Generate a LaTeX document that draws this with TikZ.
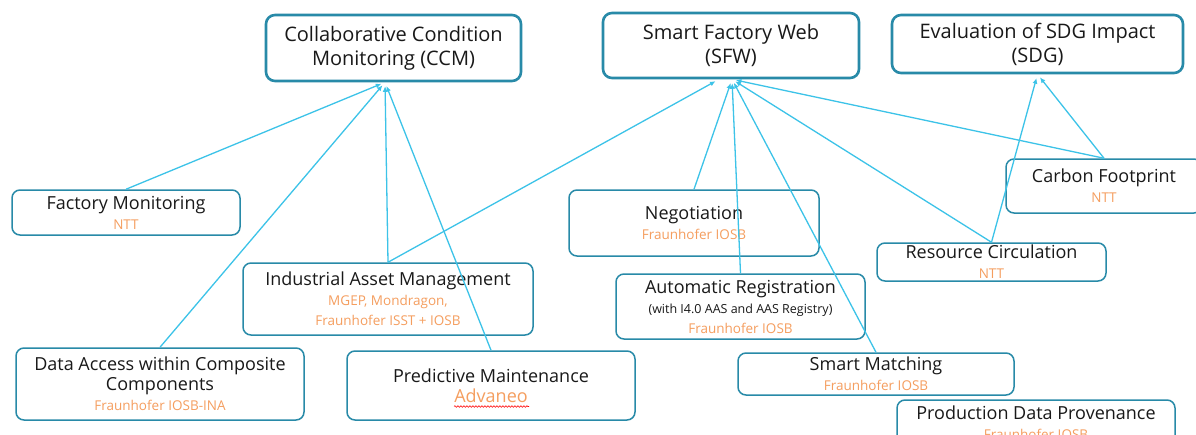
\documentclass[tikz,border=0pt]{standalone}
\usepackage{fontspec}
\setmainfont{Open Sans}
\usetikzlibrary{arrows.meta,calc,decorations.pathmorphing}
\definecolor{boxc}{RGB}{40,138,168}
\definecolor{linec}{RGB}{60,195,232}
\definecolor{orgc}{RGB}{245,158,95}
\definecolor{txtc}{RGB}{25,25,25}
\newcommand\orgtxt[1]{{\color{orgc}\fontsize{13.5}{15}\selectfont #1}}
\newcommand\smalltxt[1]{{\fontsize{12.5}{13}\selectfont #1}}
\begin{document}
\begin{tikzpicture}[x=1pt,y=-1pt,
 topbox/.style={draw=boxc, line width=2.6pt, rounded corners=9pt, align=center, inner sep=0pt, font=\fontsize{20}{24}\selectfont, text=txtc},
 subbox/.style={draw=boxc, line width=1.5pt, rounded corners=8pt, align=center, inner sep=0pt, font=\fontsize{18}{20}\selectfont, text=txtc},
 conn/.style={draw=linec, line width=1.3pt, -{Latex[length=5.5pt,width=5pt]}, shorten >=4pt}]
\clip (0,0) rectangle (1196,434);
\fill[white] (0,0) rectangle (1196,434);

% top-level boxes
\node[topbox, minimum width=255pt, minimum height=66pt] (ccm) at (393.5,48) {Collaborative Condition\\Monitoring (CCM)};
\node[topbox, minimum width=256pt, minimum height=65pt] (sfw) at (731,45.5) {Smart Factory Web\\(SFW)};
\node[topbox, minimum width=291pt, minimum height=58pt] (sdg) at (1037.5,44) {Evaluation of SDG Impact\\(SDG)};

% sub boxes
\node[subbox, minimum width=228pt, minimum height=45pt] (fm) at (126,212.5) {Factory Monitoring\\\orgtxt{NTT}};
\node[subbox, minimum width=290pt, minimum height=72pt] (iam) at (388,299) {Industrial Asset Management\\\orgtxt{MGEP, Mondragon,}\\\orgtxt{Fraunhofer ISST + IOSB}};
\node[subbox, minimum width=288pt, minimum height=72pt] (da) at (160,384) {Data Access within Composite\\Components\\\orgtxt{Fraunhofer IOSB-INA}};
\node[subbox, minimum width=288pt, minimum height=69pt] (pm) at (491,385.5) {Predictive Maintenance\\{\color{orgc}Advaneo}};
\node[subbox, minimum width=250pt, minimum height=66pt] (neg) at (694,223) {Negotiation\\\orgtxt{Fraunhofer IOSB}};
\node[subbox, minimum width=249pt, minimum height=65pt] (ar) at (740.5,306.5) {Automatic Registration\\\smalltxt{(with I4.0 AAS and AAS Registry)}\\\orgtxt{Fraunhofer IOSB}};
\node[subbox, minimum width=276pt, minimum height=42pt] (sm) at (876,374) {Smart Matching\\\orgtxt{Fraunhofer IOSB}};
\node[subbox, minimum width=278pt, minimum height=45pt] (pdp) at (1036,422.5) {Production Data Provenance\\\orgtxt{Fraunhofer IOSB}};
\node[subbox, minimum width=229pt, minimum height=38pt] (rc) at (991.5,262) {Resource Circulation\\\orgtxt{NTT}};
\node[subbox, minimum width=196pt, minimum height=54pt] (cf) at (1104,186) {Carbon Footprint\\\orgtxt{NTT}};

% spell-check underline
\draw[red, line width=0.6pt, decorate, decoration={snake, amplitude=0.8pt, segment length=3pt}] ($(pm.center)+(-37,21)$) -- ($(pm.center)+(38,21)$);

% connectors
\draw[conn] (fm.north) -- ([xshift=-8.5pt]ccm.south);
\draw[conn] (da.north) -- ([xshift=-8.5pt]ccm.south);
\draw[conn] (iam.north) -- ([xshift=-8.5pt]ccm.south);
\draw[conn] (pm.north) -- ([xshift=-8.5pt]ccm.south);
\draw[conn] (iam.north) -- ([xshift=-12pt]sfw.south);
\draw[conn] (neg.north) -- ([xshift=1pt]sfw.south);
\draw[conn] (ar.north) -- ([xshift=1pt]sfw.south);
\draw[conn] (sm.north) -- ([xshift=1pt]sfw.south);
\draw[conn] (rc.north) -- ([xshift=1pt]sfw.south);
\draw[conn] (cf.north) -- ([xshift=1pt]sfw.south);
\draw[conn] (rc.north) -- (sdg.south);
\draw[conn] (cf.north) -- (sdg.south);
\end{tikzpicture}
\end{document}
